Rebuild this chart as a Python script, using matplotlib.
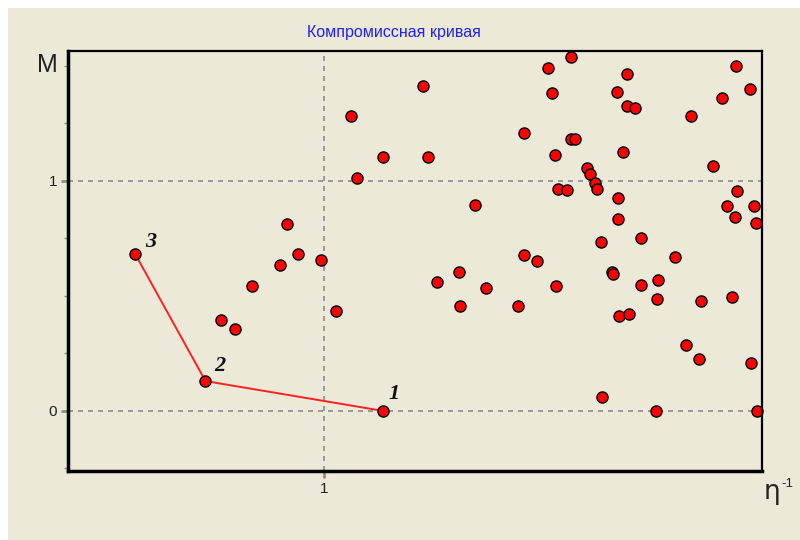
import matplotlib
matplotlib.use("Agg")
import matplotlib.pyplot as plt
from matplotlib.patches import Rectangle
from matplotlib.ticker import FixedLocator

# Compromise curve (points 1 -> 2 -> 3)
curve_x = [1.232, 0.537, 0.262]
curve_y = [0.0, 0.130, 0.683]
curve_labels = ["1", "2", "3"]

# Candidate solutions (η^-1, M)
pts_x = [0.597, 0.654, 0.718, 0.828, 0.857, 0.897, 0.988, 1.047, 1.104, 1.128,
         1.232, 1.388, 1.406, 1.440, 1.527, 1.532, 1.590, 1.632, 1.757, 1.780,
         1.780, 1.832, 1.874, 1.891, 1.902, 1.907, 1.913, 1.948, 1.965, 1.965,
         1.980, 2.027, 2.039, 2.057, 2.065, 2.081, 2.086, 2.126, 2.130, 2.145,
         2.150, 2.150, 2.153, 2.168, 2.185, 2.185, 2.191, 2.215, 2.237, 2.237,
         2.296, 2.300, 2.306, 2.370, 2.415, 2.434, 2.464, 2.474, 2.520, 2.555,
         2.573, 2.595, 2.608, 2.607, 2.612, 2.664, 2.669, 2.681, 2.688, 2.693]
pts_y = [0.396, 0.358, 0.543, 0.633, 0.811, 0.684, 0.658, 0.433, 1.284, 1.015,
         1.106, 1.414, 1.106, 0.562, 0.606, 0.458, 0.894, 0.536, 0.458, 1.209,
         0.678, 0.652, 1.490, 1.383, 1.112, 0.542, 0.967, 0.959, 1.537, 1.183,
         1.183, 1.057, 1.030, 0.989, 0.965, 0.735, 0.061, 0.606, 0.596, 1.388,
         0.928, 0.836, 0.414, 1.125, 1.465, 1.325, 0.420, 1.317, 0.753, 0.549,
         0.0, 0.486, 0.570, 0.670, 0.287, 1.284, 0.227, 0.478, 1.067, 1.362,
         0.890, 0.497, 1.499, 0.843, 0.958, 1.400, 0.210, 0.890, 0.819, 0.0]

x_major = [1]
y_major = [0, 1]
y_minor = [-0.25, 0.25, 0.5, 0.75, 1.25, 1.5]

BG = "#ECE9D8"

fig = plt.figure(figsize=(8, 5.4), dpi=100)
fig.patch.set_facecolor("white")
fig.patches.append(Rectangle((8 / 800, 0), 1, 1 - 8 / 540, transform=fig.transFigure,
                             facecolor=BG, edgecolor="none", zorder=-10))

ax = fig.add_axes([68 / 800, 1 - 471 / 540, (762 - 68) / 800, (471 - 51) / 540])
ax.set_facecolor(BG)
ax.set_xlim(0, 2.711)
ax.set_ylim(-0.261, 1.565)

# grid lines at the labelled values
for v in x_major:
    ax.axvline(v, color="#8c8c8c", lw=1.2, ls=(0, (3, 3)), zorder=1)
for v in y_major:
    ax.axhline(v, color="#8c8c8c", lw=1.2, ls=(0, (3, 3)), zorder=1)

ax.plot(curve_x, curve_y, color="#ff2020", lw=1.4, zorder=2)
ax.plot(pts_x, pts_y, ls="none", marker="o", ms=8, mfc="#ff0000", mec="black",
        mew=1.0, zorder=3, clip_on=False)
ax.plot(curve_x, curve_y, ls="none", marker="o", ms=8, mfc="#ff0000", mec="black",
        mew=1.0, zorder=3)

offsets = [(4, 5), (6, 4), (7, 1)]
for x, y, t, off in zip(curve_x, curve_y, curve_labels, offsets):
    ax.annotate(t, (x, y), xytext=off, textcoords="offset points",
                fontfamily="Liberation Serif", fontweight="bold", fontstyle="italic",
                fontsize=16, color="#111111", ha="left", va="bottom")

ax.xaxis.set_major_locator(FixedLocator(x_major))
ax.yaxis.set_major_locator(FixedLocator(y_major))
ax.yaxis.set_minor_locator(FixedLocator(y_minor))
ax.set_xticklabels([str(v) for v in x_major])
ax.set_yticklabels([str(v) for v in y_major])
ax.tick_params(axis="both", which="major", length=5, width=2, color="#8c8c8c",
               labelsize=11, labelcolor="#222222", pad=3, labelfontfamily="Liberation Sans")
ax.tick_params(axis="y", which="minor", length=3, width=1, color="#8c8c8c")

for side in ("left", "bottom"):
    ax.spines[side].set_linewidth(2.5)
for side in ("top", "right"):
    ax.spines[side].set_linewidth(1.6)
for s in ax.spines.values():
    s.set_color("black")
    s.set_zorder(4)

fig.text(394 / 800, 1 - 33 / 540, "Компромиссная кривая", color="#2020ff",
         fontsize=11.5, fontfamily="Liberation Sans", ha="center", va="center")
fig.text(47 / 800, 1 - 65 / 540, "M", fontsize=18, fontfamily="Liberation Sans",
         color="#222222", ha="center", va="center")
fig.text(764 / 800, 1 - 492 / 540, "η", fontsize=19, fontfamily="DejaVu Sans",
         color="#222222", ha="left", va="center")
fig.text(781 / 800, 1 - 484 / 540, "-1", fontsize=9.5, fontfamily="Liberation Sans",
         color="#222222", ha="left", va="center")

fig.savefig("out.png", dpi=100, facecolor=fig.get_facecolor())
